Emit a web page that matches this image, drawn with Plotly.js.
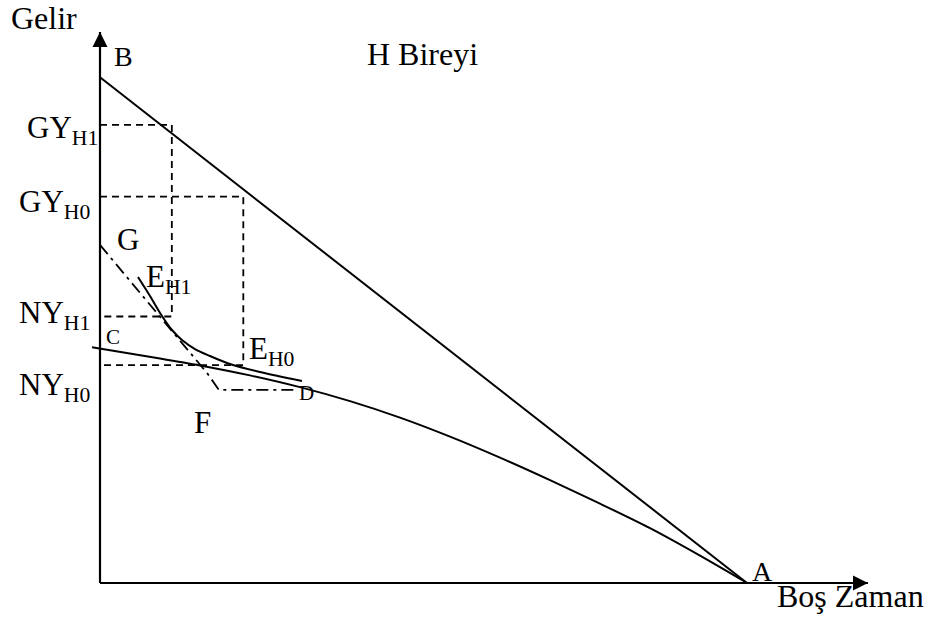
<!DOCTYPE html>
<html>
<head>
<meta charset="utf-8">
<script src="https://cdn.plot.ly/plotly-3.0.1.min.js"></script>
<style>html,body{margin:0;padding:0;background:#fff;}#chart{width:930px;height:630px;}</style>
</head>
<body>
<div id="chart"></div>
<script>
// Budget line B–A (gross income)
const budgetX = [0, 100];
const budgetY = [100, 0];
// Lower (net income) curve from C through D to A
const netX = [-1.24, 9.27, 15.46, 23.18, 30.91, 38.64, 46.37, 54.10, 61.82, 69.55, 77.28, 85.01, 92.74, 100];
const netY = [46.61, 44.41, 43.03, 41.06, 38.73, 35.96, 32.70, 28.94, 24.79, 20.34, 15.69, 10.84, 5.40, 0];
// Indifference curve through E_H1 and E_H0
const indX = [5.87, 7.73, 9.58, 11.13, 12.67, 14.68, 17.0, 20.09, 24.73, 31.22];
const indY = [60.51, 56.75, 52.80, 50.03, 48.05, 46.27, 44.89, 43.31, 41.72, 39.94];
// Dash-dot line G–F–D
const gfdX = [0, 16.54, 18.39, 30.6];
const gfdY = [66.85, 41.53, 38.17, 38.17];
// Income levels and leisure positions
const GY_H1 = 90.6, NY_H1 = 52.7, X_H1 = 11.1;
const GY_H0 = 76.4, NY_H0 = 43.1, X_H0 = 22.15;
// Axis ends
const xAxisEnd = 118.7, yAxisEnd = 108.96;

const labels = [
  {t: 'Gelir', x: -14.06, y: 111.82, s: 32},
  {t: 'B', x: 1.85, y: 104.21, s: 28},
  {t: 'H Bireyi', x: 40.96, y: 104.61, s: 32},
  {t: 'GY<sub>H1</sub>', x: -11.59, y: 89.58, s: 31},
  {t: 'GY<sub>H0</sub>', x: -12.83, y: 75.0, s: 31},
  {t: 'NY<sub>H1</sub>', x: -12.83, y: 53.0, s: 31},
  {t: 'NY<sub>H0</sub>', x: -12.83, y: 38.76, s: 31},
  {t: 'G', x: 2.32, y: 68.02, s: 31},
  {t: 'E<sub>H1</sub>', x: 6.8, y: 60.21, s: 31},
  {t: 'C', x: 0.62, y: 48.55, s: 21},
  {t: 'E<sub>H0</sub>', x: 22.72, y: 45.88, s: 31},
  {t: 'D', x: 30.45, y: 37.67, s: 21},
  {t: 'F', x: 14.22, y: 31.74, s: 31},
  {t: 'A', x: 100.46, y: 2.37, s: 28},
  {t: 'Boş Zaman', x: 104.33, y: -2.57, s: 32}
];

const black = '#000';
const traces = [
  {x: [0, xAxisEnd], y: [0, 0], mode: 'lines', line: {color: black, width: 2.2}},
  {x: [0, 0], y: [0, yAxisEnd], mode: 'lines', line: {color: black, width: 2.2}},
  {x: budgetX, y: budgetY, mode: 'lines', line: {color: black, width: 2}},
  {x: netX, y: netY, mode: 'lines', line: {color: black, width: 2, shape: 'spline', smoothing: 0.8}},
  {x: indX, y: indY, mode: 'lines', line: {color: black, width: 2, shape: 'spline', smoothing: 1}},
  {x: gfdX, y: gfdY, mode: 'lines', line: {color: black, width: 1.8, dash: '12px,5px,3px,5px'}},
  {x: [0, X_H1, X_H1, 0], y: [GY_H1, GY_H1, NY_H1, NY_H1], mode: 'lines', line: {color: black, width: 1.8, dash: '7px,5px'}},
  {x: [0, X_H0, X_H0, 0], y: [GY_H0, GY_H0, NY_H0, NY_H0], mode: 'lines', line: {color: black, width: 1.8, dash: '7px,5px'}}
];

const annotations = labels.map(l => ({
  text: l.t, x: l.x, y: l.y, xref: 'x', yref: 'y', xanchor: 'left', yanchor: 'middle',
  showarrow: false, font: {family: 'Liberation Serif, Times New Roman, serif', size: l.s, color: black}
}));
annotations.push({x: xAxisEnd, y: 0, xref: 'x', yref: 'y', ax: -40, ay: 0, text: '', showarrow: true,
  arrowhead: 2, arrowsize: 1.5, arrowwidth: 2, arrowcolor: black, standoff: 0});
annotations.push({x: 0, y: yAxisEnd, xref: 'x', yref: 'y', ax: 0, ay: 40, text: '', showarrow: true,
  arrowhead: 2, arrowsize: 1.5, arrowwidth: 2, arrowcolor: black, standoff: 0});

const layout = {
  width: 930, height: 630,
  margin: {l: 0, r: 0, t: 0, b: 0},
  paper_bgcolor: '#fff', plot_bgcolor: '#fff',
  showlegend: false,
  xaxis: {range: [-15.456, 128.284], visible: false, fixedrange: true},
  yaxis: {range: [-9.294, 115.286], visible: false, fixedrange: true},
  annotations: annotations
};

Plotly.newPlot('chart', traces, layout, {displayModeBar: false, staticPlot: true});
</script>
</body>
</html>
